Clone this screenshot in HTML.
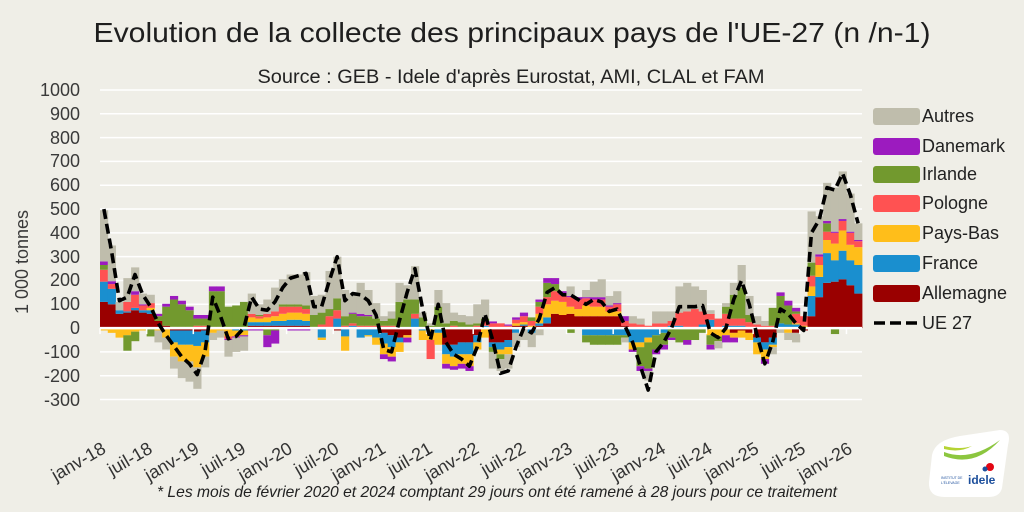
<!DOCTYPE html>
<html>
<head>
<meta charset="utf-8">
<style>
html,body{margin:0;padding:0;background:#efeee7;}
svg{display:block;}
text{font-family:"Liberation Sans",sans-serif;}
</style>
</head>
<body>
<svg id="c" width="1024" height="512" viewBox="0 0 1024 512" xmlns="http://www.w3.org/2000/svg">
<rect x="0" y="0" width="1024" height="512" fill="#efeee7"/>
<g id="grid"></g>
<g id="bars"></g>
<g id="axis"></g>
<g id="line"></g>

<text x="512" y="42" text-anchor="middle" font-size="28" fill="#1e1e1e" textLength="837" lengthAdjust="spacingAndGlyphs">Evolution de la collecte des principaux pays de l'UE-27 (n /n-1)</text>
<text x="511" y="83" text-anchor="middle" font-size="19" fill="#222" textLength="507" lengthAdjust="spacingAndGlyphs">Source : GEB - Idele d'après Eurostat, AMI, CLAL et FAM</text>

<g font-size="18" fill="#3a3a3a" text-anchor="end">
<text x="80" y="96">1000</text>
<text x="80" y="120">900</text>
<text x="80" y="144">800</text>
<text x="80" y="167">700</text>
<text x="80" y="191">600</text>
<text x="80" y="215">500</text>
<text x="80" y="239">400</text>
<text x="80" y="263">300</text>
<text x="80" y="286">200</text>
<text x="80" y="310">100</text>
<text x="80" y="334">0</text>
<text x="80" y="358">-100</text>
<text x="80" y="382">-200</text>
<text x="80" y="406">-300</text>
</g>
<text transform="translate(28,262) rotate(-90)" text-anchor="middle" font-size="18" fill="#3a3a3a">1 000 tonnes</text>

<g font-size="18" fill="#333" text-anchor="end">
<text transform="translate(107,452) rotate(-30)">janv-18</text>
<text transform="translate(153.6,452) rotate(-30)">juil-18</text>
<text transform="translate(200.3,452) rotate(-30)">janv-19</text>
<text transform="translate(246.9,452) rotate(-30)">juil-19</text>
<text transform="translate(293.6,452) rotate(-30)">janv-20</text>
<text transform="translate(340.2,452) rotate(-30)">juil-20</text>
<text transform="translate(386.9,452) rotate(-30)">janv-21</text>
<text transform="translate(433.5,452) rotate(-30)">juil-21</text>
<text transform="translate(480.2,452) rotate(-30)">janv-22</text>
<text transform="translate(526.8,452) rotate(-30)">juil-22</text>
<text transform="translate(573.5,452) rotate(-30)">janv-23</text>
<text transform="translate(620.1,452) rotate(-30)">juil-23</text>
<text transform="translate(666.8,452) rotate(-30)">janv-24</text>
<text transform="translate(713.4,452) rotate(-30)">juil-24</text>
<text transform="translate(760.1,452) rotate(-30)">janv-25</text>
<text transform="translate(806.7,452) rotate(-30)">juil-25</text>
<text transform="translate(853.4,452) rotate(-30)">janv-26</text>
</g>

<text x="497" y="497" text-anchor="middle" font-size="16" font-style="italic" fill="#222" textLength="680" lengthAdjust="spacingAndGlyphs">* Les mois de février 2020 et 2024 comptant 29 jours ont été ramené à 28 jours pour ce traitement</text>

<!-- Legend -->
<g font-size="18" fill="#222">
<rect x="873" y="108" width="47" height="17" rx="3" fill="#bfbdac"/><text x="922" y="122">Autres</text>
<rect x="873" y="138" width="47" height="17" rx="3" fill="#9c1bbf"/><text x="922" y="152">Danemark</text>
<rect x="873" y="166" width="47" height="17" rx="3" fill="#72992e"/><text x="922" y="180">Irlande</text>
<rect x="873" y="195" width="47" height="17" rx="3" fill="#ff5252"/><text x="922" y="209">Pologne</text>
<rect x="873" y="225" width="47" height="17" rx="3" fill="#ffbe1a"/><text x="922" y="239">Pays-Bas</text>
<rect x="873" y="255" width="47" height="17" rx="3" fill="#1a8fcf"/><text x="922" y="269">France</text>
<rect x="873" y="285" width="47" height="17" rx="3" fill="#9a0000"/><text x="922" y="299">Allemagne</text>
<line x1="874" y1="323" x2="920" y2="323" stroke="#000" stroke-width="3.5" stroke-dasharray="11,5"/><text x="922" y="329">UE 27</text>
</g>

<!-- Logo -->
<g>
<path d="M932,455 Q935,440 960,436 L1000,430 Q1012,430 1008,445 L1002,488 Q1000,497 988,497 L945,497 Q928,497 929,482 Z" fill="#ffffff"/>
<path d="M944,452 Q970,462 1000,440 Q975,468 944,456 Z" fill="#8cc63f"/>
<path d="M944,446 Q960,450 972,446 Q960,453 944,449 Z" fill="#b5d334"/>
<circle cx="990" cy="467" r="4" fill="#e30613"/>
<circle cx="985" cy="469" r="2.5" fill="#1d4f9c"/>
<text x="968" y="484" font-size="12" font-weight="bold" fill="#1d4f9c">idele</text>
<text x="941" y="479" font-size="3.5" fill="#1d4f9c">INSTITUT DE</text>
<text x="941" y="484" font-size="3.5" fill="#1d4f9c">L'ÉLEVAGE</text>
</g>
</svg>

<script>
(function(){
var NS="http://www.w3.org/2000/svg";
var x0=100, bw=762/98, y0=328.1, k=0.2381;
var colors=['#9a0000','#1a8fcf','#ffbe1a','#ff5252','#72992e','#9c1bbf','#bfbdac'];
// [ALL, FR, PB, PL, IR, DK, AU]
var D=[
[110,85,-10,50,20,15,215],
[100,65,-20,20,0,12,150],
[60,15,-40,0,0,0,35],
[65,5,-30,40,-65,0,100],
[75,10,-15,55,-40,15,100],
[65,10,-10,20,0,5,45],
[60,15,10,20,-35,0,35],
[30,0,-10,0,20,10,-50],
[10,0,-40,0,80,12,-50],
[-10,-50,-60,5,115,15,-50],
[-10,-60,-70,5,95,15,-70],
[-10,-60,-70,5,70,15,-85],
[-15,-60,-90,10,30,15,-90],
[-10,-50,-60,10,30,15,-45],
[5,0,-20,0,150,20,-30],
[5,0,-10,0,150,20,-30],
[0,-5,-30,-10,90,-5,-70],
[0,-10,-25,0,95,-5,-60],
[0,-10,-20,0,110,-5,-60],
[10,15,20,15,0,-10,85],
[10,15,15,10,5,-10,45],
[10,15,20,15,-30,-50,60],
[10,20,20,20,-10,-55,100],
[10,20,30,30,10,0,105],
[10,25,30,25,10,-10,125],
[10,25,30,25,10,-10,125],
[10,20,30,20,15,-10,140],
[5,0,0,0,50,-5,80],
[5,-40,-10,10,50,0,75],
[5,0,0,45,30,0,160],
[-10,40,0,35,50,0,175],
[-5,-30,-60,10,40,0,110],
[0,10,0,10,40,5,80],
[0,-40,0,10,40,10,130],
[0,-30,-5,10,40,5,105],
[0,-40,-30,10,30,0,65],
[-20,-45,-45,10,20,-20,20],
[-30,-50,-40,10,30,-20,30],
[-40,-20,-40,0,110,0,80],
[-30,0,-10,0,120,-20,60],
[0,40,0,20,60,0,140],
[0,-10,-40,0,45,0,20],
[0,0,-50,-80,10,0,10],
[0,-20,-50,0,90,0,70],
[-70,-40,-40,0,20,-20,85],
[-70,-50,-40,10,20,-15,35],
[-60,-50,-40,5,20,-20,30],
[-60,-50,-50,5,10,-20,35],
[-30,-30,-30,10,10,0,80],
[0,10,-40,20,10,0,80],
[-60,-20,0,20,-20,8,-70],
[-60,-30,-20,20,-20,0,-50],
[-50,-30,-30,10,0,5,-60],
[10,-20,10,15,0,10,-60],
[10,5,10,25,0,15,-50],
[0,-20,10,20,15,0,-60],
[10,10,40,30,20,10,-30],
[20,25,55,30,60,20,0],
[60,0,55,40,30,25,0],
[55,0,55,30,0,15,0],
[60,0,30,40,-20,5,40],
[50,0,30,40,0,10,0],
[50,-30,45,30,-30,5,30],
[50,-30,40,30,-40,10,65],
[50,-30,40,30,-40,10,75],
[50,-30,20,20,-40,5,40],
[50,-30,20,30,-40,5,50],
[10,-30,0,20,-10,20,-20],
[0,-60,-30,20,0,-10,30],
[0,-60,-20,15,-80,-20,25],
[0,-40,-20,10,-110,-10,-40],
[0,-30,0,20,-60,-20,50],
[0,-20,0,20,-50,-20,50],
[0,10,0,20,-40,-10,40],
[0,10,0,55,-60,0,110],
[0,5,0,65,-50,-20,120],
[0,5,0,75,-50,0,95],
[0,15,0,55,-20,0,90],
[0,35,-30,25,-40,-20,15],
[0,-5,-30,40,-20,0,-30],
[0,10,-30,50,30,-30,15],
[-20,10,-20,30,100,-20,50],
[-10,10,-30,30,130,0,95],
[-20,5,-30,20,30,0,80],
[-40,-20,-50,15,0,0,35],
[-60,-30,-40,10,0,-20,20],
[-40,-30,-10,10,75,0,-30],
[0,20,0,0,115,15,-20],
[0,15,-20,0,80,20,-30],
[-20,15,5,40,10,15,-40],
[-10,5,5,40,0,0,0],
[50,85,40,45,55,0,215],
[130,85,50,35,0,10,160],
[190,125,55,35,35,10,160],
[195,90,70,45,-25,5,185],
[205,120,85,40,0,8,200],
[180,105,65,50,0,5,160],
[145,120,75,25,0,5,70]
];
var L=[500,320,115,130,225,140,90,20,-30,-75,-120,-150,-195,-100,130,50,-45,-35,0,130,80,75,110,170,210,220,230,90,90,200,300,115,145,140,115,55,-90,-100,30,150,250,80,-50,100,-60,-110,-130,-160,-80,60,-50,-190,-180,-80,0,-20,40,150,170,140,140,120,100,120,110,70,80,10,-60,-160,-260,-100,-60,0,90,90,90,95,-20,-40,0,120,200,100,-30,-150,-60,80,60,20,-10,400,455,590,580,650,560,440];

var grid=document.getElementById('grid');
for(var v=-300;v<=1000;v+=100){
  var l=document.createElementNS(NS,'line');
  var y=y0-v*k;
  l.setAttribute('x1',100);l.setAttribute('x2',862);
  l.setAttribute('y1',y);l.setAttribute('y2',y);
  l.setAttribute('stroke','#ffffff');l.setAttribute('stroke-width','1.5');
  grid.appendChild(l);
}
var bars=document.getElementById('bars');
for(var i=0;i<D.length;i++){
  var pos=0,neg=0,x=x0+i*bw;
  for(var s=0;s<7;s++){
    var val=D[i][s]; if(!val) continue;
    var r=document.createElementNS(NS,'rect');
    var y,h;
    if(val>0){ y=y0-(pos+val)*k; h=val*k; pos+=val; }
    else { y=y0+neg*k; h=-val*k; neg-=val; }
    r.setAttribute('x',x.toFixed(2));r.setAttribute('y',y.toFixed(2));
    r.setAttribute('width',(bw+0.4).toFixed(2));r.setAttribute('height',h.toFixed(2));
    r.setAttribute('fill',colors[s]);
    bars.appendChild(r);
  }
}
var ax=document.getElementById('axis');
var z=document.createElementNS(NS,'line');
z.setAttribute('x1',100);z.setAttribute('x2',862);z.setAttribute('y1',y0);z.setAttribute('y2',y0);
z.setAttribute('stroke','#ffffff');z.setAttribute('stroke-width','2.5');ax.appendChild(z);
for(var t=0;t<=16;t++){
  var tx=x0+t*6*bw;
  var tl=document.createElementNS(NS,'line');
  tl.setAttribute('x1',tx);tl.setAttribute('x2',tx);tl.setAttribute('y1',y0);tl.setAttribute('y2',y0+6);
  tl.setAttribute('stroke','#ffffff');tl.setAttribute('stroke-width','1.5');ax.appendChild(tl);
}
var pts=[];
for(var j=0;j<L.length;j++){pts.push((x0+(j+0.5)*bw).toFixed(2)+','+(y0-L[j]*k).toFixed(2));}
var pl=document.createElementNS(NS,'polyline');
pl.setAttribute('points',pts.join(' '));
pl.setAttribute('fill','none');pl.setAttribute('stroke','#000');
pl.setAttribute('stroke-width','3.6');pl.setAttribute('stroke-dasharray','10,5');
pl.setAttribute('stroke-linejoin','round');
document.getElementById('line').appendChild(pl);
})();
</script>
</body>
</html>
